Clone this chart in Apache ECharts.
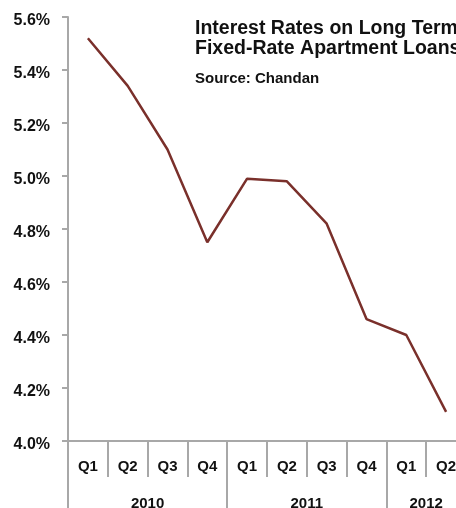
<!DOCTYPE html>
<html>
<head>
<meta charset="utf-8">
<script src="https://cdn.jsdelivr.net/npm/echarts@6/dist/echarts.min.js"></script>
<style>
  html, body { margin: 0; padding: 0; background: #fff; }
  #chart { width: 456px; height: 508px; }
</style>
</head>
<body>
<div id="chart"></div>
<script>
// Quarterly rates, 2010 Q1 through 2012 Q2
const quarters = ['Q1', 'Q2', 'Q3', 'Q4', 'Q1', 'Q2', 'Q3', 'Q4', 'Q1', 'Q2'];
const rates = [5.52, 5.34, 5.10, 4.75, 4.99, 4.98, 4.82, 4.46, 4.40, 4.11];
// Year groups: label, first quarter index, number of quarters
const years = ['2010', '2011', '2012'];
const yearStart = [0, 4, 8];
const yearSpan = [4, 4, 2];
const yTicks = { min: 4.0, max: 5.6, step: 0.2 };

const titleLines = ['Interest Rates on Long Term', 'Fixed-Rate Apartment Loans'];
const sourceText = 'Source: Chandan';

const FONT = '"Liberation Sans", Arial, sans-serif';
const AXIS_GRAY = '#a8a8a8';
const LABEL_COLOR = '#111';

const yearCenters = years.map((_, i) => yearStart[i] + yearSpan[i] / 2);

const chart = echarts.init(document.getElementById('chart'), null, { renderer: 'canvas' });

chart.setOption({
  animation: false,
  backgroundColor: '#fff',
  title: {
    text: titleLines.join('\n'),
    subtext: sourceText,
    left: 190,
    top: 13,
    itemGap: 12,
    textStyle: { fontFamily: FONT, fontWeight: 'bold', fontSize: 19.5, lineHeight: 20.5, color: LABEL_COLOR },
    subtextStyle: { fontFamily: FONT, fontWeight: 'bold', fontSize: 15, color: LABEL_COLOR }
  },
  // plot runs a little past the right edge of the canvas
  grid: { left: 68, width: 398, top: 17, bottom: 67, containLabel: false, outerBoundsMode: 'none' },
  xAxis: [
    {
      type: 'category',
      data: quarters,
      boundaryGap: true,
      position: 'bottom',
      axisLine: { show: true, lineStyle: { color: AXIS_GRAY, width: 2 } },
      axisTick: { show: true, interval: 0, length: 36, lineStyle: { color: AXIS_GRAY, width: 2 } },
      axisLabel: { interval: 0, margin: 18, fontFamily: FONT, fontWeight: 'bold', fontSize: 15, color: LABEL_COLOR },
      splitLine: { show: false }
    },
    {
      type: 'value',
      min: 0,
      max: quarters.length,
      position: 'bottom',
      axisLine: { show: false },
      axisTick: { show: true, customValues: yearStart, length: 67, lineStyle: { color: AXIS_GRAY, width: 2 } },
      axisLabel: {
        show: true,
        customValues: yearCenters,
        margin: 55,
        fontFamily: FONT, fontWeight: 'bold', fontSize: 15, color: LABEL_COLOR,
        formatter: (v) => {
          const i = yearCenters.findIndex(c => Math.abs(c - v) < 1e-6);
          return i >= 0 ? years[i] : '';
        }
      },
      splitLine: { show: false }
    }
  ],
  yAxis: {
    type: 'value',
    min: yTicks.min,
    max: yTicks.max,
    interval: yTicks.step,
    axisLine: { show: true, lineStyle: { color: AXIS_GRAY, width: 2 } },
    axisTick: { show: true, length: 6, lineStyle: { color: AXIS_GRAY, width: 2 } },
    axisLabel: {
      margin: 18,
      verticalAlign: 'top',
      lineHeight: 7,
      fontFamily: FONT, fontWeight: 'bold', fontSize: 16, color: LABEL_COLOR,
      formatter: (v) => v.toFixed(1) + '%'
    },
    splitLine: { show: false }
  },
  series: [
    {
      type: 'line',
      xAxisIndex: 0,
      data: rates,
      symbol: 'none',
      lineStyle: { color: '#7a302b', width: 2.5 },
      itemStyle: { color: '#7a302b' }
    }
  ]
});
</script>
</body>
</html>
